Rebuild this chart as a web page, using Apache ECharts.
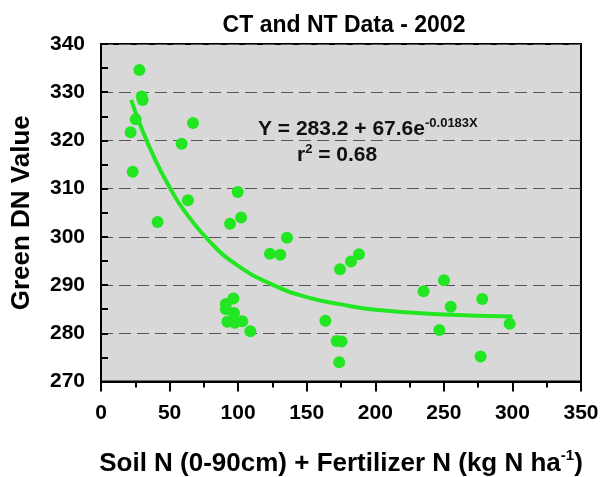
<!DOCTYPE html>
<html lang="en">
<head>
<meta charset="UTF-8">
<title>CT and NT Data - 2002</title>
<script src="https://cdn.jsdelivr.net/npm/echarts@6/dist/echarts.min.js"></script>
<style>
  body { margin: 0; background: #fff; }
</style>
</head>
<body>
<div id="main" style="width: 603px;height: 477px;"></div>
<script type="text/javascript">
// observed points (soil N + fert N, green DN)
var soilN = [28, 29.7, 30.4, 25.3, 21.6, 67.1, 58.8, 23.1, 99.7, 63.4,
  102.2, 41.3, 94.1, 123.2, 130.7, 135.6, 91.1, 96.5, 91.1, 97.0,
  92.1, 97.5, 103.0, 108.9, 163.6, 174.3, 182.3, 188.1, 171.8, 175.4,
  173.7, 235.2, 250.1, 255.0, 246.7, 278.0, 276.8, 298.0];
var greenDN = [334.6, 329.1, 328.4, 324.4, 321.7, 323.6, 319.3, 313.5, 309.3, 307.6,
  304.0, 303.1, 302.7, 296.5, 296.3, 299.8, 286.1, 287.2, 285.0, 284.2,
  282.4, 282.2, 282.5, 280.4, 282.6, 293.3, 294.9, 296.4, 278.4, 278.3,
  274.0, 288.7, 291.0, 285.5, 280.7, 287.1, 275.2, 282.0];

// fitted curve
var fitX = [22, 30, 40, 50, 60, 80, 100, 125, 150, 175, 200, 250, 300];
var fitY = [328.4, 322.2, 315.7, 310.3, 305.7, 298.8, 294.0, 290.1, 287.5, 286.0, 284.9, 283.9, 283.5];

var xTicks = [0, 50, 100, 150, 200, 250, 300, 350];
var yTicks = [270, 280, 290, 300, 310, 320, 330, 340];

var pts = soilN.map(function (x, i) { return [x, greenDN[i]]; });
var fit = fitX.map(function (x, i) { return [x, fitY[i]]; });

var green = '#22e622';
var font = 'Liberation Sans, Arial, sans-serif';

var myChart = echarts.init(document.getElementById('main'));
myChart.setOption({
  animation: false,
  title: {
    text: 'CT and NT Data - 2002',
    left: 339, top: 9, textAlign: 'center',
    textStyle: { fontFamily: font, fontSize: 23, fontWeight: 'bold', color: '#000' }
  },
  grid: {
    left: 101, top: 44, width: 480, height: 337.5,
    outerBoundsMode: 'none', containLabel: false,
    show: true, backgroundColor: '#d8d8d8', borderColor: '#000', borderWidth: 2
  },
  xAxis: {
    type: 'value', min: xTicks[0], max: xTicks[xTicks.length - 1], interval: 50,
    name: 'Soil N (0-90cm) + Fertilizer N (kg N ha{sup|-1})',
    nameLocation: 'middle', nameGap: 67,
    nameTextStyle: {
      fontFamily: font, fontSize: 26, fontWeight: 'bold', color: '#000', lineHeight: 30,
      rich: { sup: { fontFamily: font, fontSize: 15, fontWeight: 'bold', lineHeight: 16, verticalAlign: 'top' } }
    },
    axisLine: { show: true, lineStyle: { color: '#000', width: 2 } },
    axisTick: { show: true, inside: false, length: 10, lineStyle: { color: '#000', width: 2 } },
    minorTick: { show: true, splitNumber: 2, length: 6, lineStyle: { color: '#000', width: 2 } },
    axisLabel: { margin: 21, fontFamily: font, fontSize: 21, fontWeight: 'bold', color: '#000' },
    splitLine: { show: false }
  },
  yAxis: {
    type: 'value', min: yTicks[0], max: yTicks[yTicks.length - 1], interval: 10,
    name: 'Green DN Value',
    nameLocation: 'middle', nameGap: 66, nameRotate: 90,
    nameTextStyle: { fontFamily: font, fontSize: 26, fontWeight: 'bold', color: '#000' },
    axisLine: { show: true, lineStyle: { color: '#000', width: 2 } },
    axisTick: { show: true, inside: true, length: 7, lineStyle: { color: '#000', width: 2 } },
    minorTick: { show: true, splitNumber: 2, length: 7, lineStyle: { color: '#000', width: 2 } },
    axisLabel: { margin: 16, fontFamily: font, fontSize: 21, fontWeight: 'bold', color: '#000' },
    splitLine: { show: true, lineStyle: { color: '#555', width: 1.2, type: [12, 6] } }
  },
  graphic: [
    {
      type: 'text', x: 258, y: 129,
      style: {
        text: 'Y = 283.2 + 67.6e{sup|-0.0183X}',
        align: 'left', verticalAlign: 'middle',
        fontFamily: font, fontSize: 21, fontWeight: 'bold', fill: '#111', lineHeight: 24,
        rich: { sup: { fontFamily: font, fontSize: 13, fontWeight: 'bold', lineHeight: 12, verticalAlign: 'top' } }
      }
    },
    {
      type: 'text', x: 297, y: 155,
      style: {
        text: 'r{sup|2} = 0.68',
        align: 'left', verticalAlign: 'middle',
        fontFamily: font, fontSize: 21, fontWeight: 'bold', fill: '#111', lineHeight: 24,
        rich: { sup: { fontFamily: font, fontSize: 13, fontWeight: 'bold', lineHeight: 12, verticalAlign: 'top' } }
      }
    }
  ],
  series: [
    {
      type: 'line', data: fit, smooth: true, showSymbol: false, symbol: 'none',
      lineStyle: { color: green, width: 4 }, z: 2
    },
    {
      type: 'scatter', data: pts, symbolSize: 12,
      itemStyle: { color: green, opacity: 1 }, z: 3
    }
  ]
});
</script>
</body>
</html>
